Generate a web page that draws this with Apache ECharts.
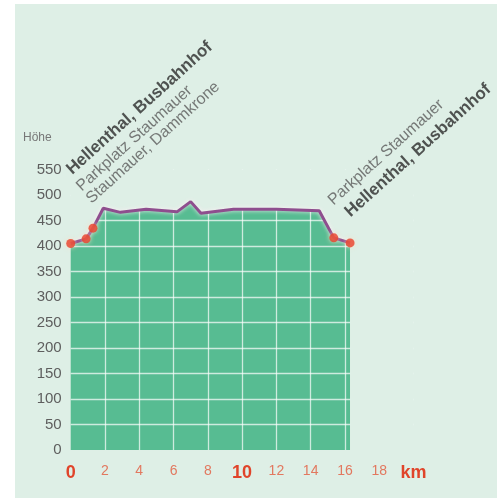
<!DOCTYPE html>
<html><head><meta charset="utf-8">
<script src="https://cdn.jsdelivr.net/npm/echarts@6/dist/echarts.min.js"></script>
<style>
html,body{margin:0;padding:0;background:#fff;}
#wrap{position:relative;width:497px;height:498px;background:#fff;}
#bg{position:absolute;left:15px;top:4px;right:0;bottom:0;background:#deefe6;}
#c{position:absolute;left:0;top:0;width:497px;height:498px;}
</style></head>
<body><div id="wrap"><div id="bg"></div><div id="c"></div></div>
<script>
// Elevation profile (km, m)
const dist = [0, 0.9, 1.3, 1.9, 2.9, 4.4, 6.2, 7.0, 7.6, 9.5, 12.0, 14.5, 15.35, 16.3];
const elev = [405, 414, 435, 474, 466, 472, 467, 487, 464, 472, 472, 469, 416, 406];
// Stops (indices into profile) and their names
const stopIdx = [0, 1, 2, 12, 13];
const stopNames = ['Hellenthal, Busbahnhof', 'Parkplatz Staumauer', 'Staumauer, Dammkrone', 'Parkplatz Staumauer', 'Hellenthal, Busbahnhof'];
const stopBold = [true, false, false, false, true];
// Axis ticks
const xTickLabels = ['0', '2', '4', '6', '8', '10', '12', '14', '16', '18', 'km'];
const xStrong = ['0', '10', 'km'];
const yMax = 550, xMax = 20;

const BG = '#deefe6';
const profile = dist.map((d, i) => [d, elev[i]]);
const cover = profile.concat([[dist[dist.length - 1], 0], [xMax, 0]]);

// label anchor offsets (style only)
const labelPos = [[8.5, -61], [2.5, -40], [5.5, -17], [6.5, -25], [7.5, -18]];

const stops = stopIdx.map((k, j) => ({
  value: profile[k],
  label: {
    show: true,
    formatter: stopNames[j],
    position: labelPos[j],
    align: 'left',
    verticalAlign: 'bottom',
    rotate: 42,
    fontFamily: 'Liberation Sans, Arial, sans-serif',
    fontSize: stopBold[j] ? 17 : 16,
    fontWeight: stopBold[j] ? 'bold' : 'normal',
    color: stopBold[j] ? '#2b2b2b' : '#5a5a5a'
  }
}));

const chart = echarts.init(document.getElementById('c'));
chart.setOption({
  animation: false,
  grid: { left: 70.7, right: 83.5, top: 169.5, bottom: 48 },
  xAxis: {
    type: 'value', min: 0, max: xMax, interval: 2, z: 3,
    axisLine: { show: false }, axisTick: { show: false },
    splitLine: { show: true, showMinLine: false, showMaxLine: false, lineStyle: { color: 'rgba(255,255,255,0.7)', width: 1.3 } },
    axisLabel: {
      margin: 14,
      formatter: v => {
        const t = xTickLabels[Math.round(v / 2)];
        return xStrong.indexOf(t) >= 0 ? '{b|' + t + '}' : '{s|' + t + '}';
      },
      rich: {
        b: { fontFamily: 'Liberation Sans, Arial', fontSize: 18, fontWeight: 'bold', color: '#e0442a' },
        s: { fontFamily: 'Liberation Sans, Arial', fontSize: 14, color: '#e2785f' }
      }
    }
  },
  yAxis: {
    type: 'value', min: 0, max: yMax, interval: 50, z: 3,
    name: 'Höhe', nameLocation: 'end', nameGap: 26,
    nameTextStyle: { fontFamily: 'Liberation Sans, Arial', fontSize: 12, color: '#777', align: 'right', padding: [0, 19, 0, 0] },
    axisLine: { show: false }, axisTick: { show: false },
    splitLine: { show: true, showMinLine: false, showMaxLine: false, lineStyle: { color: 'rgba(255,255,255,0.7)', width: 1.3 } },
    axisLabel: { margin: 9, fontFamily: 'Liberation Sans, Arial', fontSize: 15, color: '#5e5e5e' }
  },
  series: [
    { type: 'line', data: profile, z: 2, symbol: 'none', silent: true,
      lineStyle: { width: 0 }, areaStyle: { color: '#57bc92', opacity: 1 } },
    { type: 'line', data: cover, z: 4, symbol: 'none', silent: true,
      lineStyle: { width: 0 }, areaStyle: { color: BG, opacity: 1, origin: 'end' } },
    { type: 'line', data: profile, z: 5, symbol: 'none',
      lineStyle: { width: 3, color: '#8e4e8e', shadowColor: 'rgba(255,240,245,0.9)', shadowBlur: 4 } },
    { type: 'scatter', data: stops, z: 6, symbolSize: 9,
      itemStyle: { color: '#e8402a', shadowColor: 'rgba(255,220,190,0.95)', shadowBlur: 5 } }
  ]
});
</script></body></html>
